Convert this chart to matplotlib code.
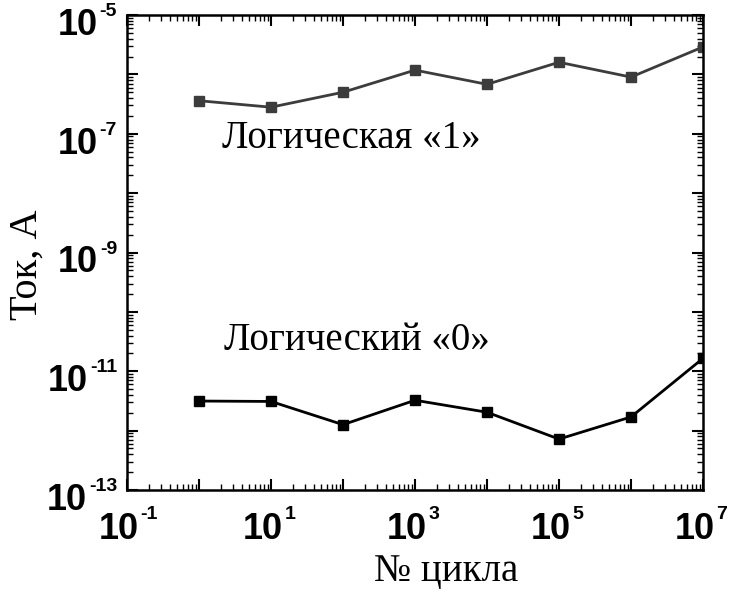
import math
import matplotlib
matplotlib.use("Agg")
import matplotlib.pyplot as plt
from matplotlib.ticker import LogLocator, NullFormatter

# номер цикла и токи для двух логических состояний
cycles = [1, 10, 1e2, 1e3, 1e4, 1e5, 1e6, 1e7]
current_one = [3.6e-7, 2.8e-7, 5.0e-7, 1.18e-6, 6.8e-7, 1.6e-6, 9.0e-7, 2.9e-6]
current_zero = [3.15e-12, 3.1e-12, 1.26e-12, 3.25e-12, 2.04e-12, 7.2e-13, 1.7e-12, 1.65e-11]

x_labels = [1e-1, 1e1, 1e3, 1e5, 1e7]
y_labels = [1e-13, 1e-11, 1e-9, 1e-7, 1e-5]

label_one = "Логическая «1»"
label_zero = "Логический «0»"

sans = "Liberation Sans"
serif = "Liberation Serif"

fig = plt.figure(figsize=(7.31, 5.93), dpi=100)
ax = fig.add_axes([127 / 731, 103 / 593, 576 / 731, 475 / 593])

ax.plot(cycles, current_one, "-s", color="#3c3c3c", lw=2, ms=7)
ax.plot(cycles, current_zero, "-s", color="black", lw=2, ms=7)

ax.set_xscale("log")
ax.set_yscale("log")
ax.set_xlim(1e-1, 1e7)
ax.set_ylim(1e-13, 1e-5)

for axis in (ax.xaxis, ax.yaxis):
    axis.set_major_locator(LogLocator(base=10, numticks=30))
    axis.set_minor_locator(LogLocator(base=10, subs=range(2, 10), numticks=30))
    axis.set_major_formatter(NullFormatter())
    axis.set_minor_formatter(NullFormatter())

ax.tick_params(which="both", direction="in", top=True, right=True, colors="black")
ax.tick_params(which="major", length=8, width=1.5)
ax.tick_params(which="minor", length=4.5, width=1)
for s in ax.spines.values():
    s.set_linewidth(1.8)

px = 0.72  # points per pixel at dpi 100

# подписи делений: крупное "10" и мелкий показатель степени
for v in x_labels:
    p = "%d" % round(math.log10(v))
    ten = ax.annotate("10", xy=(v, 0), xycoords=ax.get_xaxis_transform(),
                      xytext=(-8.5 * px, -22 * px), textcoords="offset points",
                      ha="center", va="top", fontsize=26, weight="bold", family=sans)
    ax.annotate(p, xy=(1, 1), xycoords=ten, xytext=(2 * px, 6 * px),
                textcoords="offset points", ha="left", va="top",
                fontsize=14, weight="bold", family=sans)

for v in y_labels:
    p = "%d" % round(math.log10(v))
    ex = ax.annotate(p, xy=(0, v), xycoords=ax.get_yaxis_transform(),
                     xytext=(-10 * px, 12 * px), textcoords="offset points",
                     ha="right", va="top", fontsize=14, weight="bold", family=sans)
    ax.annotate("10", xy=(0, 1), xycoords=ex, xytext=(-2 * px, -5 * px),
                textcoords="offset points", ha="right", va="top",
                fontsize=26, weight="bold", family=sans)

ax.set_xlabel("№ цикла", fontsize=28, family=serif)
ax.xaxis.set_label_coords(0.554, -0.172)
ax.xaxis.label.set_va("center")
ax.set_ylabel("Ток, А", fontsize=29, family=serif)
ax.yaxis.set_label_coords(-0.174, 0.474)
ax.yaxis.label.set_va("center")

ax.text(0.165, 0.72, label_one, transform=ax.transAxes, fontsize=28,
        family=serif, va="baseline")
ax.text(0.168, 0.295, label_zero, transform=ax.transAxes, fontsize=28,
        family=serif, va="baseline")

fig.savefig("out.png", dpi=100)
